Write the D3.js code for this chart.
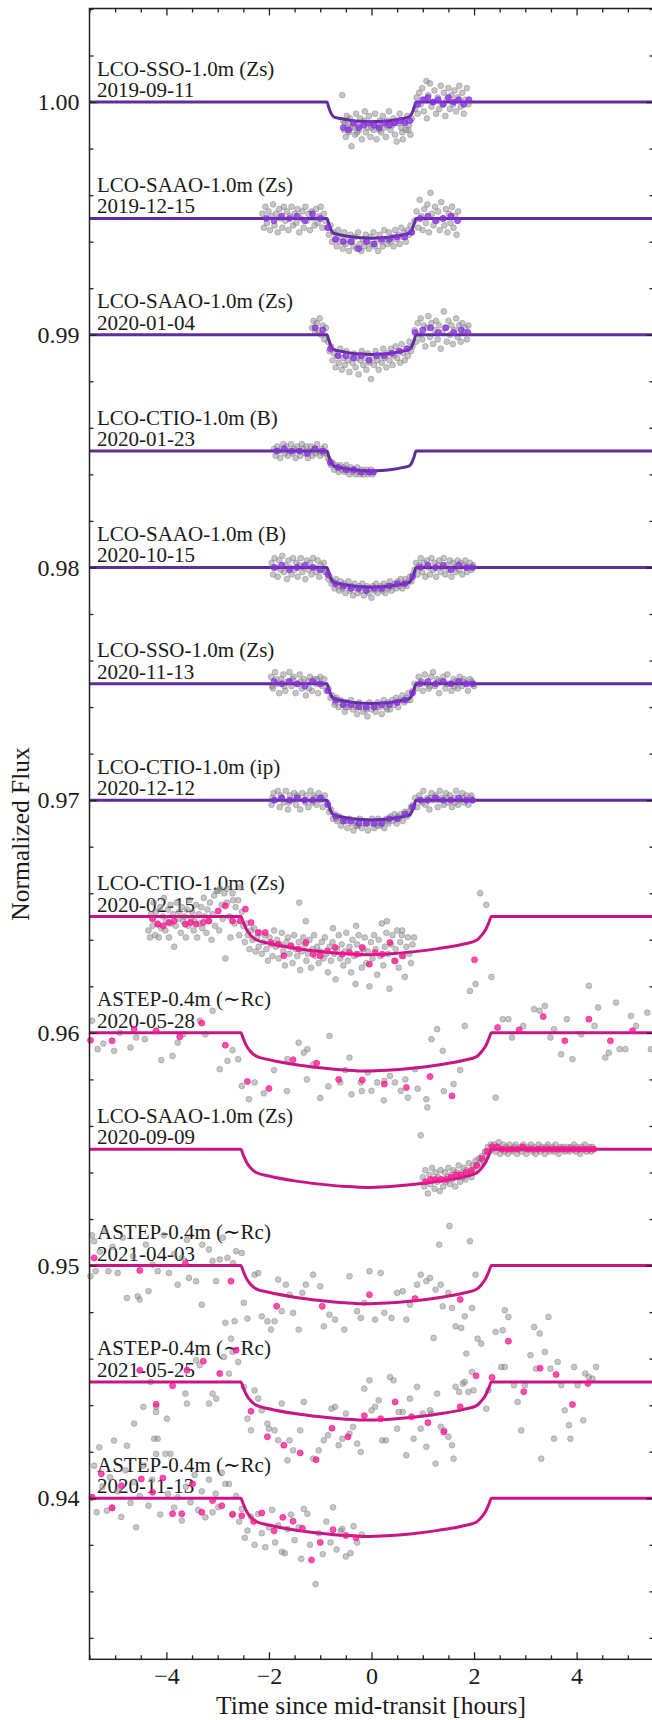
<!DOCTYPE html>
<html lang="en">
<head>
  <meta charset="UTF-8">
  <script src="https://cdn.jsdelivr.net/npm/d3@7"></script>
  <title>Transit light curves</title>
  <style>
    body { margin: 0; background: #fff; }
    svg { display: block; }
  </style>
</head>
<body>
  <svg></svg>
</body>
<script>
const width = 652;
const height = 1720;
const frame = { left: 89.5, right: 653.5, top: 8.5, bottom: 1659.3 };
const fontFamily = "'Liberation Serif', 'DejaVu Serif', serif";

// one entry per light curve, top to bottom
const names = [
  'LCO-SSO-1.0m (Zs)', 'LCO-SAAO-1.0m (Zs)', 'LCO-SAAO-1.0m (Zs)', 'LCO-CTIO-1.0m (B)',
  'LCO-SAAO-1.0m (B)', 'LCO-SSO-1.0m (Zs)', 'LCO-CTIO-1.0m (ip)', 'LCO-CTIO-1.0m (Zs)',
  'ASTEP-0.4m (\u223CRc)', 'LCO-SAAO-1.0m (Zs)', 'ASTEP-0.4m (\u223CRc)', 'ASTEP-0.4m (\u223CRc)',
  'ASTEP-0.4m (\u223CRc)'
];
const dates = [
  '2019-09-11', '2019-12-15', '2020-01-04', '2020-01-23', '2020-10-15', '2020-11-13', '2020-12-12',
  '2020-02-15', '2020-05-28', '2020-09-09', '2021-04-03', '2021-05-25', '2020-11-13'
];
const offsets = [1.000, 0.995, 0.990, 0.985, 0.980, 0.975, 0.970, 0.965, 0.960, 0.955, 0.950, 0.945, 0.940];
const planet = ['b', 'b', 'b', 'b', 'b', 'b', 'b', 'c', 'c', 'c', 'c', 'c', 'c'];

const xMajorTicks = [-4, -2, 0, 2, 4];
const yMajorTicks = [0.94, 0.95, 0.96, 0.97, 0.98, 0.99, 1.00];

// transit models: [hours, ppt below baseline]
const modelB = [[-5.5,0],[-0.87,0],[-0.83,-0.25],[-0.79,-0.48],[-0.74,-0.63],[-0.6,-0.71],[-0.4,-0.79],[-0.2,-0.83],[0,-0.85],
  [0.2,-0.83],[0.4,-0.79],[0.6,-0.71],[0.74,-0.63],[0.79,-0.48],[0.83,-0.25],[0.87,0],[5.5,0]];
const modelC = [[-5.5,0],[-2.55,0],[-2.5,-0.25],[-2.44,-0.55],[-2.36,-0.8],[-2.25,-1.0],[-2.0,-1.15],[-1.5,-1.36],[-1.0,-1.5],
  [-0.5,-1.6],[-0.1,-1.64],[0.3,-1.61],[0.8,-1.52],[1.3,-1.38],[1.8,-1.18],[2.05,-1.02],[2.15,-0.8],[2.23,-0.55],[2.29,-0.25],
  [2.34,0],[5.5,0]];

// unbinned photometry [hours, ppt] and binned points
const raw1 = [[-0.57,0.3],[-0.55,-0.8],[-0.53,-1.2],[-0.52,-0.9],[-0.5,-1.5],[-0.48,-0.6],[-0.46,-1.0],[-0.44,-1.3],[-0.42,-0.7],
  [-0.41,-1.1],[-0.39,-1.9],[-0.37,-1.1],[-0.35,-0.9],[-0.32,-1.4],[-0.3,-0.5],[-0.28,-1.3],[-0.27,-1.0],[-0.24,-1.2],[-0.22,-0.7],
  [-0.19,-1.6],[-0.16,-0.9],[-0.14,-0.8],[-0.13,-0.4],[-0.11,-1.3],[-0.08,-1.1],[-0.05,-0.6],[-0.02,-1.5],[0.0,-1.1],[0.01,-0.9],
  [0.04,-1.2],[0.07,-0.5],[0.1,-1.6],[0.13,-1.0],[0.15,-1.2],[0.16,-0.8],[0.19,-1.3],[0.22,-0.6],[0.25,-1.1],[0.28,-1.5],[0.3,-1.0],
  [0.31,-0.8],[0.34,-0.4],[0.37,-1.2],[0.4,-1.0],[0.43,-0.7],[0.45,-0.9],[0.46,-1.4],[0.49,-1.7],[0.52,-0.9],[0.55,-0.5],[0.58,-1.1],
  [0.6,-1.3],[0.61,-1.6],[0.64,-0.8],[0.67,-1.2],[0.7,-0.6],[0.72,-1.2],[0.73,-1.0],[0.76,-1.4],[0.79,-0.7],
  [0.85,-0.3],[0.88,0.2],[0.9,-0.5],[0.93,0.4],[0.96,-0.1],[0.99,0.6],[1.02,-0.4],[1.05,0.1],[1.07,0.9],[1.08,-0.7],[1.11,0.3],
  [1.14,0.8],[1.17,-0.2],[1.2,0.0],[1.23,0.5],[1.26,-0.5],[1.29,0.2],[1.32,-0.3],[1.35,0.7],[1.38,-0.1],[1.41,0.4],[1.44,-0.6],
  [1.47,0.1],[1.5,0.6],[1.53,-0.3],[1.56,0.3],[1.59,-0.1],[1.62,0.5],[1.65,-0.4],[1.68,0.2],[1.71,0.7],[1.74,-0.2],[1.77,0.4],
  [1.8,-0.5],[1.83,0.1],[1.86,0.6],[1.89,-0.1]];
const bin1 = [[-0.55,-1.1],[-0.45,-1.2],[-0.35,-0.9],[-0.25,-1.1],[-0.15,-1.0],[-0.05,-0.9],[0.05,-1.0],[0.15,-1.1],[0.25,-0.9],
  [0.35,-1.0],[0.45,-0.9],[0.55,-0.8],[0.65,-0.9],[0.75,-0.8],[0.9,-0.1],[1.0,0.1],[1.1,0.2],[1.2,0.0],[1.3,0.1],[1.4,-0.1],
  [1.5,0.2],[1.6,0.0],[1.7,0.1],[1.8,-0.1],[1.9,0.1]];

const raw2 = [[-2.13,0.2],[-2.1,-0.4],[-2.07,0.5],[-2.04,-0.2],[-2.01,0.3],[-1.98,-0.5],[-1.95,0.1],[-1.92,0.6],[-1.89,-0.3],
  [-1.86,0.2],[-1.83,-0.6],[-1.8,0.4],[-1.77,0.0],[-1.74,-0.4],[-1.71,0.5],[-1.68,-0.1],[-1.65,0.3],[-1.62,-0.5],[-1.59,0.1],
  [-1.56,0.5],[-1.53,-0.3],[-1.5,0.2],[-1.47,-0.2],[-1.44,0.4],[-1.41,-0.6],[-1.38,0.0],[-1.35,0.3],[-1.32,-0.4],[-1.29,0.5],
  [-1.26,-0.1],[-1.23,0.2],[-1.2,-0.5],[-1.17,0.3],[-1.14,0.0],[-1.11,-0.3],[-1.08,0.4],[-1.05,-0.2],[-1.02,0.1],[-0.99,0.5],
  [-0.96,-0.4],[-0.93,0.2],[-0.9,-0.1],
  [-0.86,-0.4],[-0.83,-0.7],[-0.8,-0.3],[-0.77,-1.0],[-0.74,-0.6],[-0.71,-0.9],[-0.68,-1.2],[-0.65,-0.5],[-0.62,-1.0],[-0.59,-0.8],
  [-0.56,-1.3],[-0.53,-0.6],[-0.5,-1.1],[-0.47,-0.9],[-0.44,-1.4],[-0.41,-0.7],[-0.38,-1.0],[-0.35,-1.2],[-0.32,-0.8],[-0.29,-1.3],
  [-0.26,-0.6],[-0.23,-1.1],[-0.2,-1.4],[-0.17,-0.9],[-0.14,-1.2],[-0.11,-0.7],[-0.08,-1.0],[-0.05,-1.3],[-0.02,-0.8],[0.01,-1.1],
  [0.04,-0.6],[0.07,-1.2],[0.1,-0.9],[0.13,-1.4],[0.16,-0.7],[0.19,-1.0],[0.22,-1.2],[0.25,-0.5],[0.28,-0.9],[0.31,-1.1],[0.34,-0.6],
  [0.37,-1.0],[0.4,-0.8],[0.43,-1.2],[0.46,-0.5],[0.49,-0.9],[0.52,-0.7],[0.55,-1.1],[0.58,-0.4],[0.61,-0.8],[0.64,-0.6],[0.67,-1.0],
  [0.7,-0.5],[0.73,-0.7],[0.76,-0.3],[0.79,-0.6],
  [0.84,-0.1],[0.88,0.3],[0.91,-0.4],[0.94,0.8],[0.97,0.1],[1.0,-0.5],[1.03,0.4],[1.06,-0.2],[1.09,0.6],[1.12,-0.6],[1.15,1.1],
  [1.18,0.2],[1.21,-0.3],[1.24,0.5],[1.27,-0.1],[1.3,0.3],[1.33,-0.5],[1.36,0.7],[1.39,0.0],[1.42,-0.3],[1.45,0.4],[1.48,-0.6],
  [1.51,0.2],[1.54,-0.2],[1.57,0.5],[1.6,-0.4],[1.63,0.1],[1.66,-0.7],[1.69,0.3]];
const bin2 = [[-2.05,0.0],[-1.9,-0.1],[-1.75,0.1],[-1.6,0.0],[-1.45,0.1],[-1.3,-0.1],[-1.15,0.2],[-1.0,0.0],[-0.85,-0.4],
  [-0.7,-0.9],[-0.55,-1.0],[-0.4,-1.0],[-0.25,-1.3],[-0.1,-1.0],[0.05,-1.1],[0.2,-0.9],[0.35,-0.9],[0.5,-0.8],[0.65,-0.8],
  [0.78,-0.6],[0.95,0.0],[1.1,0.1],[1.25,-0.1],[1.4,0.0],[1.55,0.1],[1.68,-0.1]];

const raw3 = [[-1.16,0.3],[-1.13,0.6],[-1.1,0.1],[-1.07,0.5],[-1.04,0.2],[-1.01,0.7],[-0.98,0.0],[-0.95,0.4],[-0.92,-0.2],[-0.89,0.3],
  [-0.85,-0.3],[-0.82,-0.7],[-0.79,-0.5],[-0.76,-1.1],[-0.73,-0.8],[-0.7,-1.4],[-0.67,-0.9],[-0.64,-1.2],[-0.61,-0.6],[-0.58,-1.5],
  [-0.55,-1.0],[-0.52,-1.3],[-0.49,-0.7],[-0.46,-1.1],[-0.43,-1.6],[-0.4,-0.9],[-0.37,-1.2],[-0.34,-0.8],[-0.31,-1.4],[-0.28,-1.0],
  [-0.25,-1.7],[-0.22,-1.1],[-0.19,-0.7],[-0.16,-1.3],[-0.13,-1.0],[-0.1,-1.5],[-0.07,-0.8],[-0.04,-1.2],[-0.01,-1.9],[0.02,-1.0],
  [0.05,-1.3],[0.08,-0.7],[0.11,-1.1],[0.14,-1.5],[0.17,-0.9],[0.2,-1.2],[0.23,-0.6],[0.26,-1.0],[0.29,-1.4],[0.32,-0.8],[0.35,-1.1],
  [0.38,-0.6],[0.41,-1.3],[0.44,-0.9],[0.47,-0.5],[0.5,-1.0],[0.53,-0.7],[0.56,-1.2],[0.59,-0.4],[0.62,-0.8],[0.65,-1.1],[0.68,-0.6],
  [0.71,-0.9],[0.74,-0.3],[0.77,-0.7],[0.8,-0.5],
  [0.84,0.2],[0.87,-0.3],[0.9,0.5],[0.93,0.0],[0.96,0.7],[0.99,-0.2],[1.02,0.4],[1.05,-0.5],[1.08,0.3],[1.11,0.8],[1.14,-0.1],
  [1.17,0.5],[1.2,-0.4],[1.23,0.2],[1.26,0.6],[1.29,-0.2],[1.32,0.4],[1.35,-0.6],[1.38,0.1],[1.41,1.0],[1.44,0.3],[1.47,-0.3],
  [1.5,0.6],[1.53,0.0],[1.56,0.4],[1.59,-0.4],[1.62,0.2],[1.65,0.7],[1.68,-0.1],[1.71,0.4],[1.74,-0.3],[1.77,0.5],[1.8,0.1],
  [1.83,0.3],[1.86,-0.2],[1.89,0.4]];
const bin3 = [[-1.1,0.3],[-0.95,0.2],[-0.8,-0.6],[-0.65,-0.9],[-0.5,-0.9],[-0.35,-1.0],[-0.2,-0.9],[-0.05,-1.1],[0.1,-0.9],
  [0.25,-0.9],[0.4,-0.8],[0.55,-0.7],[0.7,-0.6],[0.85,0.1],[1.0,0.2],[1.15,0.3],[1.3,0.1],[1.45,0.3],[1.6,0.1],[1.75,0.2],[1.88,0.1]];

const raw4 = [[-1.9,0.1],[-1.87,-0.2],[-1.84,0.2],[-1.81,0.0],[-1.78,-0.3],[-1.75,0.1],[-1.72,0.3],[-1.69,-0.1],[-1.66,0.2],
  [-1.63,-0.2],[-1.6,0.0],[-1.57,0.3],[-1.54,-0.1],[-1.51,0.1],[-1.48,-0.3],[-1.45,0.2],[-1.42,0.0],[-1.39,-0.2],[-1.36,0.3],
  [-1.33,0.1],[-1.3,-0.1],[-1.27,0.2],[-1.24,-0.3],[-1.21,0.0],[-1.18,0.2],[-1.15,-0.2],[-1.12,0.1],[-1.09,-0.1],[-1.06,0.3],
  [-1.03,0.0],[-1.0,-0.2],[-0.97,0.1],[-0.94,-0.1],[-0.91,0.2],
  [-0.88,-0.1],[-0.85,-0.3],[-0.82,-0.4],[-0.79,-0.6],[-0.76,-0.5],[-0.73,-0.8],[-0.7,-0.6],[-0.67,-0.7],[-0.64,-0.9],[-0.61,-0.6],
  [-0.58,-0.8],[-0.55,-0.7],[-0.52,-0.9],[-0.49,-0.6],[-0.46,-0.8],[-0.43,-1.0],[-0.4,-0.7],[-0.37,-0.9],[-0.34,-0.8],[-0.31,-1.0],
  [-0.28,-0.7],[-0.25,-0.9],[-0.22,-1.0],[-0.19,-0.8],[-0.16,-1.0],[-0.13,-0.9],[-0.1,-0.8],[-0.07,-1.0],[-0.04,-0.9],[-0.01,-0.8],
  [0.02,-1.0],[0.05,-0.9]];
const bin4 = [[-1.85,0.0],[-1.7,0.1],[-1.55,0.0],[-1.4,0.0],[-1.25,-0.1],[-1.1,0.1],[-0.95,0.0],[-0.8,-0.5],[-0.65,-0.7],
  [-0.5,-0.8],[-0.35,-0.8],[-0.2,-0.9],[-0.05,-0.9],[0.03,-0.9]];

const raw5 = [[-1.95,0.2],[-1.92,-0.3],[-1.89,0.4],[-1.86,0.0],[-1.83,-0.4],[-1.8,0.3],[-1.77,-0.1],[-1.74,0.5],[-1.71,-0.2],
  [-1.68,0.1],[-1.65,-0.5],[-1.62,0.3],[-1.59,0.0],[-1.56,-0.3],[-1.53,0.4],[-1.5,-0.1],[-1.47,0.2],[-1.44,-0.4],[-1.41,0.1],
  [-1.38,0.4],[-1.35,-0.2],[-1.32,0.0],[-1.29,-0.5],[-1.26,0.3],[-1.23,-0.1],[-1.2,0.2],[-1.17,-0.3],[-1.14,0.4],[-1.11,0.0],
  [-1.08,-0.2],[-1.05,0.3],[-1.02,-0.4],[-0.99,0.1],[-0.96,-0.1],[-0.93,0.2],[-0.9,-0.2],
  [-0.87,-0.2],[-0.84,-0.5],[-0.81,-0.4],[-0.78,-0.7],[-0.75,-0.6],[-0.72,-0.9],[-0.69,-0.5],[-0.66,-0.8],[-0.63,-1.0],[-0.6,-0.6],
  [-0.57,-0.9],[-0.54,-0.7],[-0.51,-1.1],[-0.48,-0.8],[-0.45,-0.6],[-0.42,-1.0],[-0.39,-0.8],[-0.36,-1.2],[-0.33,-0.7],[-0.3,-0.9],
  [-0.27,-1.1],[-0.24,-0.8],[-0.21,-1.0],[-0.18,-0.7],[-0.15,-1.2],[-0.12,-0.9],[-0.09,-0.8],[-0.06,-1.1],[-0.03,-0.9],[0.0,-1.3],
  [0.03,-0.8],[0.06,-1.0],[0.09,-0.7],[0.12,-1.1],[0.15,-0.9],[0.18,-0.8],[0.21,-1.0],[0.24,-0.7],[0.27,-1.1],[0.3,-0.8],[0.33,-0.9],
  [0.36,-0.6],[0.39,-1.0],[0.42,-0.8],[0.45,-0.7],[0.48,-0.9],[0.51,-0.6],[0.54,-0.8],[0.57,-0.5],[0.6,-0.9],[0.63,-0.7],[0.66,-0.5],
  [0.69,-0.8],[0.72,-0.6],[0.75,-0.4],[0.78,-0.6],[0.81,-0.3],
  [0.84,-0.1],[0.87,0.2],[0.9,-0.3],[0.93,0.1],[0.96,0.4],[0.99,-0.2],[1.02,0.2],[1.05,-0.4],[1.08,0.3],[1.11,0.0],[1.14,-0.3],
  [1.17,0.4],[1.2,-0.1],[1.23,0.2],[1.26,-0.4],[1.29,0.1],[1.32,0.3],[1.35,-0.2],[1.38,0.0],[1.41,0.4],[1.44,-0.3],[1.47,0.1],
  [1.5,-0.1],[1.53,0.3],[1.56,-0.4],[1.59,0.2],[1.62,0.0],[1.65,-0.2],[1.68,0.3],[1.71,-0.1],[1.74,0.2],[1.77,-0.3],[1.8,0.1],
  [1.83,0.3],[1.86,-0.2],[1.89,0.0],[1.92,0.2],[1.95,-0.1],[1.98,0.1]];
const bin5 = [[-1.9,0.0],[-1.75,0.1],[-1.6,-0.1],[-1.45,0.0],[-1.3,0.1],[-1.15,0.0],[-1.0,-0.1],[-0.85,-0.3],[-0.7,-0.7],
  [-0.55,-0.8],[-0.4,-0.9],[-0.25,-0.9],[-0.1,-1.0],[0.05,-0.9],[0.2,-0.9],[0.35,-0.8],[0.5,-0.7],[0.65,-0.7],[0.8,-0.4],[0.95,0.0],
  [1.1,0.1],[1.25,0.0],[1.4,0.1],[1.55,-0.1],[1.7,0.1],[1.85,0.0],[1.97,0.0]];

const raw6 = [[-1.96,0.3],[-1.94,-0.1],[-1.92,-0.2],[-1.88,0.5],[-1.86,0.2],[-1.84,0.0],[-1.8,-0.4],[-1.76,0.2],[-1.72,0.4],
  [-1.7,-0.1],[-1.68,-0.3],[-1.64,0.1],[-1.6,0.5],[-1.56,-0.1],[-1.54,0.2],[-1.52,0.3],[-1.48,-0.4],[-1.44,0.0],[-1.4,0.4],
  [-1.38,0.1],[-1.36,-0.2],[-1.32,0.2],[-1.28,-0.5],[-1.24,0.1],[-1.22,-0.2],[-1.2,0.3],[-1.16,-0.3],[-1.12,0.2],[-1.08,0.0],
  [-1.06,0.2],[-1.04,-0.4],[-1.0,0.3],[-0.98,0.0],[-0.96,-0.1],[-0.92,0.2],
  [-0.88,-0.3],[-0.84,-0.2],[-0.8,-0.6],[-0.76,-0.5],[-0.72,-0.9],[-0.7,-0.8],[-0.68,-0.6],[-0.64,-1.0],[-0.6,-0.7],[-0.56,-0.9],
  [-0.52,-1.2],[-0.5,-1.0],[-0.48,-0.8],[-0.44,-1.0],[-0.4,-0.7],[-0.36,-1.1],[-0.32,-0.9],[-0.3,-1.0],[-0.28,-1.3],[-0.24,-0.8],
  [-0.2,-1.0],[-0.16,-1.2],[-0.12,-0.9],[-0.1,-1.1],[-0.08,-1.4],[-0.04,-0.8],[0.0,-1.1],[0.04,-0.9],[0.08,-1.2],[0.1,-1.0],
  [0.12,-0.8],[0.16,-1.0],[0.2,-1.3],[0.24,-0.7],[0.28,-1.0],[0.3,-1.1],[0.32,-0.8],[0.36,-1.1],[0.4,-0.7],[0.44,-0.9],[0.48,-0.6],
  [0.5,-0.8],[0.52,-1.0],[0.56,-0.7],[0.6,-0.5],[0.64,-0.8],[0.68,-0.6],[0.7,-0.7],[0.72,-0.4],[0.76,-0.7],[0.8,-0.3],
  [0.84,0.0],[0.88,-0.2],[0.92,0.3],[0.96,0.1],[0.98,0.1],[1.0,-0.3],[1.04,0.4],[1.08,0.0],[1.12,-0.2],[1.14,-0.1],[1.16,0.3],
  [1.2,0.5],[1.24,-0.1],[1.28,0.2],[1.3,0.1],[1.32,-0.4],[1.36,0.1],[1.4,0.3],[1.44,-0.2],[1.46,0.0],[1.48,0.4],[1.52,0.0],
  [1.56,-0.3],[1.6,0.2],[1.62,-0.1],[1.64,0.1],[1.68,-0.2],[1.72,0.3],[1.76,-0.1],[1.78,0.1],[1.8,0.2],[1.84,0.0],[1.88,-0.3],
  [1.92,0.2],[1.94,0.0],[1.96,0.1],[2.0,-0.1]];
const bin6 = [[-1.9,0.1],[-1.75,0.0],[-1.6,0.1],[-1.45,0.0],[-1.3,-0.1],[-1.15,0.1],[-1.0,0.0],[-0.85,-0.3],[-0.7,-0.7],
  [-0.55,-0.9],[-0.4,-0.9],[-0.25,-1.0],[-0.1,-1.0],[0.05,-1.0],[0.2,-0.9],[0.35,-0.9],[0.5,-0.8],[0.65,-0.7],[0.8,-0.4],
  [0.95,0.0],[1.1,0.1],[1.25,0.0],[1.4,0.1],[1.55,0.0],[1.7,0.1],[1.85,0.0],[1.98,0.0]];

const raw7 = [[-1.95,-0.2],[-1.93,0.1],[-1.91,0.3],[-1.87,0.0],[-1.83,0.4],[-1.79,-0.3],[-1.77,0.2],[-1.75,0.1],[-1.71,-0.1],
  [-1.67,0.4],[-1.63,-0.4],[-1.61,-0.1],[-1.59,0.2],[-1.55,0.0],[-1.51,0.3],[-1.47,-0.2],[-1.45,0.2],[-1.43,0.1],[-1.39,-0.4],
  [-1.35,0.3],[-1.31,0.0],[-1.29,-0.1],[-1.27,0.2],[-1.23,-0.3],[-1.19,0.4],[-1.15,-0.1],[-1.13,0.2],[-1.11,0.1],[-1.07,-0.2],
  [-1.03,0.3],[-0.99,0.0],[-0.97,0.1],[-0.95,-0.3],[-0.91,0.2],
  [-0.87,-0.1],[-0.83,-0.5],[-0.79,-0.4],[-0.75,-0.8],[-0.71,-0.6],[-0.69,-0.8],[-0.67,-0.9],[-0.63,-0.7],[-0.59,-1.1],[-0.55,-0.8],
  [-0.51,-0.9],[-0.49,-0.9],[-0.47,-1.2],[-0.43,-0.8],[-0.39,-1.0],[-0.35,-1.3],[-0.31,-0.9],[-0.29,-1.1],[-0.27,-1.1],[-0.23,-0.8],
  [-0.19,-1.2],[-0.15,-1.0],[-0.11,-0.9],[-0.09,-1.0],[-0.07,-1.3],[-0.03,-1.0],[0.01,-0.8],[0.05,-1.2],[0.09,-1.0],[0.11,-1.1],
  [0.13,-0.8],[0.17,-1.1],[0.21,-0.9],[0.25,-1.2],[0.29,-0.8],[0.31,-0.9],[0.33,-1.0],[0.37,-0.7],[0.41,-0.9],[0.45,-0.6],[0.49,-1.0],
  [0.51,-0.7],[0.53,-0.8],[0.57,-0.6],[0.61,-0.9],[0.65,-0.5],[0.69,-0.7],[0.71,-0.5],[0.73,-0.6],[0.77,-0.3],[0.81,-0.2],
  [0.85,0.1],[0.89,-0.3],[0.93,0.2],[0.97,0.0],[0.99,-0.1],[1.01,0.4],[1.05,-0.2],[1.09,0.1],[1.13,-0.4],[1.15,0.1],[1.17,0.3],
  [1.21,0.0],[1.25,0.2],[1.29,-0.3],[1.31,0.0],[1.33,0.4],[1.37,0.1],[1.41,-0.2],[1.45,0.3],[1.47,0.1],[1.49,-0.1],[1.53,0.2],
  [1.57,-0.3],[1.61,0.1],[1.63,-0.1],[1.65,0.4],[1.69,-0.2],[1.73,0.0],[1.77,0.3],[1.79,0.1],[1.81,-0.1],[1.85,0.2],[1.89,-0.2],
  [1.93,0.1],[1.95,0.2],[1.97,0.0]];
const bin7 = [[-1.9,0.0],[-1.75,0.1],[-1.6,0.0],[-1.45,0.1],[-1.3,0.0],[-1.15,0.0],[-1.0,0.1],[-0.85,-0.2],[-0.7,-0.7],
  [-0.55,-0.9],[-0.4,-0.9],[-0.25,-1.0],[-0.1,-1.0],[0.05,-1.0],[0.2,-1.0],[0.35,-0.8],[0.5,-0.8],[0.65,-0.6],[0.8,-0.3],
  [0.95,0.0],[1.1,0.0],[1.25,0.1],[1.4,0.0],[1.55,0.0],[1.7,0.1],[1.85,0.0],[1.97,0.0]];

const raw8 = [[-4.35,-0.6],[-4.32,-0.9],[-4.3,0.1],[-4.27,-0.4],[-4.25,0.6],[-4.22,-0.8],[-4.2,0.2],[-4.17,-0.3],[-4.15,-0.9],
  [-4.12,0.4],[-4.1,-0.5],[-4.07,0.0],[-4.05,0.8],[-4.02,-0.6],[-4.0,-0.2],[-3.97,0.3],[-3.95,-0.9],[-3.92,0.5],[-3.9,-0.3],
  [-3.87,0.1],[-3.85,-1.3],[-3.82,-0.4],[-3.8,0.6],[-3.77,-0.1],[-3.75,0.2],[-3.72,-0.7],[-3.7,0.4],[-3.67,-0.2],[-3.65,0.0],
  [-3.62,-0.9],[-3.6,0.3],[-3.57,-0.4],[-3.55,0.7],[-3.52,-0.1],[-3.5,0.2],[-3.47,-0.6],[-3.45,-0.2],[-3.42,0.5],[-3.4,-0.9],
  [-3.37,0.1],[-3.35,-0.3],[-3.32,0.4],[-3.3,-0.5],[-3.27,0.8],[-3.25,0.0],[-3.22,-0.7],[-3.2,0.3],[-3.17,-0.2],[-3.15,0.6],
  [-3.12,-1.0],[-3.1,0.1],[-3.07,0.9],[-3.05,-0.4],[-3.02,1.1],[-2.99,1.1],[-2.97,-0.6],[-2.95,1.2],[-2.92,0.5],[-2.9,-0.1],
  [-2.87,1.0],[-2.85,-1.8],[-2.82,0.6],[-2.81,1.2],[-2.77,0.0],[-2.75,-0.9],[-2.71,1.0],[-2.7,0.7],[-2.67,-0.3],[-2.65,0.4],
  [-2.6,0.7],[-2.58,-0.8],[-2.56,1.25],[-2.53,0.2],
  [-2.5,-0.4],[-2.47,-1.1],[-2.44,-0.3],[-2.41,-0.8],[-2.38,-1.4],[-2.35,-0.6],[-2.32,-1.0],[-2.29,-0.5],[-2.26,-1.5],[-2.23,-0.9],
  [-2.2,-1.3],[-2.17,-0.7],[-2.14,-1.6],[-2.11,-1.1],[-2.08,-0.8],[-2.05,-1.4],[-2.02,-1.9],[-1.99,-0.9],[-1.96,-1.2],[-1.93,-1.7],
  [-1.9,-0.6],[-1.87,-1.3],[-1.84,-1.0],[-1.81,-1.8],[-1.78,-1.2],[-1.75,-0.7],[-1.72,-1.5],[-1.69,-2.1],[-1.66,-1.1],[-1.63,-0.9],
  [-1.6,-1.6],[-1.57,-1.3],[-1.54,-2.0],[-1.51,-0.8],[-1.48,-1.4],[-1.45,-1.7],[-1.42,-1.1],[-1.41,0.6],[-1.39,-2.3],[-1.36,-1.5],
  [-1.33,-0.9],[-1.3,-1.2],[-1.28,-0.2],[-1.27,-1.9],[-1.24,-1.6],[-1.21,-1.0],[-1.18,-2.2],[-1.15,-1.4],[-1.12,-0.8],[-1.09,-1.7],
  [-1.06,-1.3],[-1.03,-2.0],[-1.0,-1.5],[-0.97,-1.1],[-0.94,-1.8],[-0.91,-0.9],[-0.88,-1.6],[-0.85,-2.4],[-0.82,-1.3],[-0.79,-1.9],
  [-0.76,-1.1],[-0.75,-0.5],[-0.73,-1.6],[-0.7,-2.7],[-0.67,-1.4],[-0.64,-0.8],[-0.61,-1.8],[-0.58,-1.2],[-0.55,-2.1],[-0.52,-1.5],
  [-0.49,-0.7],[-0.46,-1.9],[-0.43,-1.3],[-0.4,-2.4],[-0.37,-1.0],[-0.34,-1.7],[-0.31,-2.9],[-0.3,-0.4],[-0.28,-1.2],[-0.25,-0.8],
  [-0.22,-1.6],[-0.19,-2.2],[-0.16,-1.4],[-0.13,-0.9],[-0.1,-2.0],[-0.07,-1.5],[-0.04,-3.0],[-0.01,-1.1],[0.02,-1.8],[0.05,-0.8],
  [0.08,-1.4],[0.11,-2.5],[0.14,-1.0],[0.17,-1.7],[0.2,-0.3],[0.23,-2.1],[0.26,-1.3],[0.29,-0.7],[0.3,-0.2],[0.32,-1.6],[0.35,-3.1],
  [0.38,-1.2],[0.41,-0.8],[0.44,-1.9],[0.47,-1.4],[0.5,-0.6],[0.53,-2.2],[0.56,-1.1],[0.59,-0.8],[0.6,-0.6],[0.62,-1.7],[0.65,-2.6],
  [0.68,-1.3],[0.71,-0.9],[0.74,-1.6],[0.77,-2.0],[0.8,-1.2],[0.83,-0.9],
  [1.92,-3.2],[2.03,-2.9],[2.12,1.0],[2.24,0.5],[2.34,-2.6]];
const bin8 = [[-4.27,-0.11],[-4.17,-0.33],[-4.06,-0.4],[-3.95,-0.26],[-3.85,-0.19],[-3.63,-0.33],[-3.53,-0.26],[-3.42,-0.33],
  [-3.28,-0.26],[-3.17,-0.19],[-2.99,0.24],[-2.85,0.46],[-2.71,-0.19],[-2.56,-0.19],[-2.46,0.32],[-2.35,-0.26],[-2.21,-0.69],
  [-2.07,-0.69],[-1.96,-1.12],[-1.82,-1.19],[-1.71,-1.69],[-1.57,-1.26],[-1.42,-1.4],[-1.28,-1.12],[-1.14,-1.62],[-1.0,-1.69],
  [-0.86,-1.48],[-0.71,-1.33],[-0.57,-1.62],[-0.43,-1.55],[-0.29,-1.62],[-0.18,-1.33],[-0.04,-2.05],[0.07,-1.55],[0.21,-1.62],
  [0.36,-1.12],[0.46,-1.91],[0.6,-1.69],[2.01,-1.86]];

const raw9 = [[-5.45,0.52],[-5.34,-0.7],[-5.23,-0.46],[-5.02,-0.77],[-4.91,0.01],[-4.7,-0.63],[-4.59,-0.2],[-4.42,-0.27],
  [-4.1,-1.17],[-3.88,-0.99],[-3.78,-0.42],[-3.67,-0.06],[-3.35,0.52],[-3.24,-0.06],[-3.1,0.95],[-2.96,-1.56],[-2.81,-1.2],
  [-2.71,-0.74],[-2.6,-1.13],[-2.53,-2.28],[-2.39,-2.85],[-2.28,-2.13],[-2.1,-2.6],[-1.9,-1.6],[-1.65,-2.5],[-1.64,-1.13],
  [-1.42,-0.42],[-1.32,-0.85],[-1.26,-2.0],[-1.25,-0.7],[-1.14,-1.35],[-1.0,-2.8],[-0.84,-2.3],[-0.82,-0.13],[-0.61,-2.13],
  [-0.51,-1.6],[-0.43,-1.06],[-0.39,-2.64],[-0.21,-2.13],[-0.19,-2.5],[-0.07,-1.7],[0.0,-2.49],[0.11,-2.13],[0.24,-2.9],
  [0.25,-2.06],[0.36,-1.85],[0.46,-2.13],[0.57,-2.49],[0.66,-2.0],[0.71,-2.78],[0.85,-1.56],[0.9,-2.4],[1.07,-2.85],[1.09,-3.2],
  [1.17,-0.27],[1.28,0.16],[1.39,-0.77],[1.41,-2.5],[1.6,-2.2],[1.73,-1.6],[1.82,0.3],[2.42,-2.78],[2.56,0.59],[2.67,0.59],
  [2.74,-0.2],[2.96,0.3],[3.17,1.02],[3.28,0.95],[3.38,1.16],[3.49,-0.2],[3.56,0.16],[3.7,-0.92],[3.81,0.59],[3.92,-1.13],
  [4.09,-0.06],[4.24,2.02],[4.35,0.3],[4.42,1.09],[4.56,-1.06],[4.63,-0.85],[4.77,1.3],[4.84,-0.7],[4.95,-0.7],[5.06,0.73],
  [5.16,0.3],[5.38,0.87],[5.45,-0.7]];
const bin9 = [[-5.48,-0.32],[-5.06,-0.34],[-4.63,0.16],[-4.2,0.09],[-3.74,-0.17],[-3.31,0.42],[-2.85,-0.53],[-2.42,-2.09],
  [-2.0,-2.39],[-1.53,-1.16],[-1.07,-1.3],[-0.64,-2.0],[-0.18,-2.03],[0.25,-2.2],[0.68,-2.35],[1.14,-1.88],[1.57,-2.71],
  [2.46,0.23],[2.88,0.13],[3.35,0.7],[3.77,-0.34],[4.24,0.59],[4.66,-0.34],[5.09,0.09]];

const raw10 = [[0.96,0.6],[1.0,-1.2],[1.03,-1.6],[1.05,-0.9],[1.08,-1.4],[1.1,-1.9],[1.13,-1.1],[1.15,-1.5],[1.18,-0.8],[1.2,-1.3],
  [1.23,-1.7],[1.25,-1.0],[1.28,-1.4],[1.3,-1.2],[1.33,-1.8],[1.35,-0.9],[1.38,-1.3],[1.4,-1.6],[1.43,-1.0],[1.45,-1.4],[1.48,-1.2],
  [1.5,-0.8],[1.53,-1.5],[1.55,-1.1],[1.58,-1.3],[1.6,-0.9],[1.63,-1.6],[1.65,-1.0],[1.68,-1.2],[1.7,-0.7],[1.73,-1.4],[1.75,-1.0],
  [1.78,-1.2],[1.8,-0.8],[1.83,-1.3],[1.85,-0.9],[1.88,-1.1],[1.9,-0.6],[1.93,-1.0],[1.95,-1.2],[1.98,-0.7],[2.0,-0.9],[2.03,-0.5],
  [2.06,-0.7],[2.09,-0.4],[2.12,-0.6],[2.15,-0.3],[2.18,-0.5],[2.21,-0.1],[2.24,-0.3],[2.27,0.1],[2.3,-0.1],[2.33,0.2],
  [2.36,0.0],[2.39,0.2],[2.42,-0.1],[2.45,0.1],[2.48,0.3],[2.51,-0.2],[2.54,0.0],[2.57,0.2],[2.6,-0.1],[2.63,0.1],[2.66,-0.2],
  [2.69,0.2],[2.72,0.0],[2.75,-0.1],[2.78,0.1],[2.81,0.2],[2.84,-0.2],[2.87,0.0],[2.9,0.1],[2.93,-0.1],[2.96,0.2],[2.99,0.0],
  [3.02,-0.2],[3.05,0.1],[3.08,0.0],[3.11,0.2],[3.14,-0.1],[3.17,0.1],[3.2,-0.2],[3.23,0.0],[3.26,0.2],[3.29,-0.1],[3.32,0.1],
  [3.35,0.0],[3.38,-0.2],[3.41,0.1],[3.44,0.2],[3.47,-0.1],[3.5,0.0],[3.53,0.1],[3.56,-0.1],[3.59,0.2],[3.62,0.0],[3.65,-0.2],
  [3.68,0.1],[3.71,0.0],[3.74,0.1],[3.77,-0.1],[3.8,0.0],[3.83,0.1],[3.86,-0.1],[3.89,0.1],[3.92,0.0],[3.95,0.2],[3.98,-0.1],
  [4.01,0.1],[4.04,0.0],[4.07,-0.2],[4.1,0.1],[4.13,0.0],[4.16,0.2],[4.19,-0.1],[4.22,0.0],[4.25,0.1],[4.28,-0.1],[4.31,0.1],
  [4.34,0.0]];
const bin10 = [[1.05,-1.4],[1.15,-1.3],[1.25,-1.3],[1.35,-1.3],[1.45,-1.3],[1.55,-1.2],[1.65,-1.1],[1.75,-1.1],[1.85,-1.0],
  [1.95,-0.9],[2.05,-0.7],[2.15,-0.4],[2.25,-0.1],[2.35,0.1],[2.45,0.1],[2.55,0.0],[2.65,0.0],[2.75,0.0],[2.85,0.0],[2.95,0.1],
  [3.05,0.0],[3.15,0.0],[3.25,0.0],[3.35,0.0],[3.45,0.0],[3.55,0.0],[3.65,0.0],[3.75,0.0],[3.85,0.0],[3.95,0.0],[4.05,0.0],
  [4.15,0.0],[4.25,0.0],[4.33,0.0]];

const raw11 = [[-5.48,-0.46],[-5.45,1.3],[-5.41,1.05],[-5.38,-0.24],[-5.3,0.6],[-5.2,1.5],[-5.13,-0.24],[-5.05,0.8],[-4.95,-0.32],
  [-4.85,1.2],[-4.77,-1.39],[-4.65,0.4],[-4.56,-1.32],[-4.52,-1.46],[-4.4,0.9],[-4.35,-1.1],[-4.27,0.04],[-4.17,-0.24],[-4.05,1.3],
  [-3.95,-0.32],[-3.85,0.5],[-3.78,-0.82],[-3.7,0.33],[-3.6,1.1],[-3.56,-0.53],[-3.42,-0.67],[-3.31,-1.68],[-3.3,0.9],[-3.17,0.69],
  [-3.1,0.2],[-3.03,-0.67],[-2.96,0.26],[-2.9,1.2],[-2.85,-2.46],[-2.81,0.33],[-2.7,0.1],[-2.67,-2.39],[-2.64,0.62],[-2.53,0.54],
  [-2.49,-1.6],[-2.42,-2.28],[-2.28,-0.39],[-2.21,-0.32],[-2.14,-2.18],[-2.03,-2.39],[-1.96,-2.75],[-1.89,-2.39],[-1.82,-0.6],
  [-1.75,-1.96],[-1.67,-0.82],[-1.6,-1.25],[-1.53,-2.03],[-1.42,-2.75],[-1.35,-1.17],[-1.28,-0.82],[-1.14,-0.39],[-1.0,-0.89],
  [-0.93,-2.61],[-0.82,-2.11],[-0.71,-2.32],[-0.53,-2.75],[-0.43,-0.46],[-0.28,-1.96],[-0.21,-2.25],[-0.14,-1.6],[-0.04,-0.24],
  [0.07,-2.32],[0.18,-0.32],[0.25,-2.03],[0.39,-2.25],[0.5,-1.17],[0.61,-1.1],[0.68,-2.32],[0.75,-1.68],[0.89,-0.82],[0.96,-0.39],
  [1.07,-0.67],[1.14,-0.53],[1.21,-3.11],[1.25,-1.03],[1.32,0.9],[1.35,-0.82],[1.39,-1.75],[1.5,-1.17],[1.52,1.7],[1.57,-1.82],
  [1.64,-2.61],[1.75,-2.68],[1.82,-2.18],[1.92,1.05],[1.96,-1.82],[2.03,-0.39]];
const bin11 = [[-5.41,0.33],[-4.52,-0.21],[-3.63,0.09],[-2.74,-0.67],[-1.85,-1.75],[-0.96,-1.75],[-0.04,-1.25],[0.85,-1.42],[1.73,-1.46]];

const raw12 = [[-4.63,-1.79],[-4.45,-1.07],[-4.31,0.0],[-4.24,-2.44],[-4.2,-1.07],[-4.2,-1.29],[-4.17,-2.44],[-3.99,-1.58],
  [-3.63,-0.5],[-3.6,-0.93],[-3.42,0.93],[-3.35,0.72],[-3.17,-0.93],[-3.1,-0.5],[-3.03,-0.72],[-2.88,1.07],[-2.78,0.36],[-2.74,1.86],
  [-2.71,1.29],[-2.6,0.86],[-2.49,-0.21],[-2.42,-1.58],[-2.35,-2.08],[-2.28,-0.36],[-2.21,-0.72],[-2.14,-1.22],[-2.03,-1.79],
  [-2.0,-2.01],[-1.89,-2.08],[-1.82,-2.51],[-1.75,-0.93],[-1.64,-3.37],[-1.6,-2.51],[-1.53,-2.94],[-1.39,-2.08],[-1.32,-0.86],
  [-1.14,-3.3],[-1.03,-2.94],[-0.93,-2.51],[-0.85,-2.29],[-0.78,-1.15],[-0.71,-1.07],[-0.64,-2.72],[-0.57,-2.44],[-0.5,-1.36],
  [-0.43,-2.22],[-0.36,-1.93],[-0.28,-2.65],[-0.21,-3.01],[-0.14,-0.29],[-0.04,0.07],[0.0,-1.22],[0.07,-1.07],[0.14,-0.79],
  [0.21,-2.51],[0.28,-2.51],[0.36,0.21],[0.43,0.07],[0.5,-2.01],[0.53,-1.29],[0.61,-1.29],[0.68,-3.15],[0.75,-0.72],[0.82,-2.44],
  [0.89,-0.21],[0.96,-2.01],[1.0,-1.36],[1.07,-2.79],[1.14,-1.22],[1.17,-1.36],[1.25,-3.51],[1.28,-0.5],[1.35,-1.93],[1.42,-2.08],
  [1.5,-2.36],[1.57,-2.72],[1.6,-3.3],[1.64,-0.21],[1.71,-0.43],[1.78,-0.07],[1.82,0.0],[1.85,1.22],[1.89,-0.43],[1.96,0.43],
  [1.99,-0.36],[2.07,1.86],[2.14,1.65],[2.24,-1.15],[2.28,-0.36],[2.42,2.15],[2.53,0.64],[2.56,2.22],[2.6,0.64],[2.6,3.08],
  [2.67,2.79],[2.78,-0.14],[2.85,-0.86],[2.92,-2.08],[2.99,-0.14],[3.1,1.15],[3.17,2.36],[3.21,0.57],[3.28,2.08],[3.31,-3.3],
  [3.38,1.29],[3.45,2.79],[3.49,0.57],[3.56,-2.44],[3.63,0.86],[3.7,-0.14],[3.77,-1.22],[3.85,-1.86],[3.88,-2.44],[3.95,0.64],
  [4.02,-0.14],[4.13,-1.65],[4.17,0.36],[4.24,0.21],[4.31,0.14],[4.38,0.64]];
const bin12 = [[-4.52,0.5],[-4.2,-0.96],[-3.88,-0.17],[-3.6,0.5],[-3.28,0.89],[-2.96,0.36],[-2.64,1.36],[-2.35,-1.26],[-2.03,-2.36],
  [-1.71,-2.72],[-1.39,-3.05],[-1.08,-3.34],[-0.77,-1.99],[-0.46,-2.36],[-0.14,-1.45],[0.18,-1.58],[0.46,-0.86],[0.78,-1.5],
  [1.1,-1.75],[1.41,-2.15],[1.73,-1.07],[2.04,0.26],[2.35,0.19],[2.67,1.75],[2.97,-0.42],[3.29,0.59],[3.6,0.32],[3.92,-0.97],[4.22,-0.07]];

const raw13 = [[-5.45,0.04],[-5.41,1.4],[-5.36,-0.6],[-5.31,2.19],[-5.25,0.5],[-5.16,-0.53],[-5.1,0.9],[-5.06,-0.39],[-5.02,2.48],
  [-4.95,0.3],[-4.88,-0.8],[-4.8,1.2],[-4.77,2.26],[-4.7,-0.2],[-4.63,0.7],[-4.59,-1.25],[-4.52,0.1],[-4.45,1.4],[-4.35,-0.32],
  [-4.28,0.8],[-4.2,1.91],[-4.12,-0.7],[-4.02,1.91],[-3.97,0.19],[-3.92,1.91],[-3.85,-0.4],[-3.78,0.04],[-3.7,-0.96],[-3.62,0.5],
  [-3.53,-0.17],[-3.45,1.0],[-3.38,-0.5],[-3.31,0.3],[-3.24,-0.82],[-3.17,0.8],[-3.1,-0.6],[-3.04,0.2],[-2.99,-0.39],[-2.92,1.1],
  [-2.85,0.62],[-2.78,0.62],[-2.71,-0.67],[-2.64,0.1],[-2.58,-1.0],[-2.53,-0.46],[-2.47,-1.7],[-2.42,-1.39],[-2.35,-0.8],
  [-2.28,-2.0],[-2.21,-0.67],[-2.14,-1.5],[-2.07,-2.1],[-2.0,-1.25],[-1.94,-0.5],[-1.88,-1.9],[-1.82,-1.17],[-1.75,-2.3],
  [-1.69,-2.36],[-1.64,-1.32],[-1.57,-0.7],[-1.5,-1.8],[-1.42,-1.25],[-1.37,-2.6],[-1.32,-0.46],[-1.25,-0.67],[-1.2,-2.0],
  [-1.09,-3.69],[-1.03,-1.5],[-0.95,-2.4],[-0.88,-1.0],[-0.8,-1.9],[-0.75,-0.39],[-0.68,-2.2],[-0.6,-1.4],[-0.57,-1.32],[-0.5,-2.5],
  [-0.41,-2.36],[-0.35,-1.2],[-0.28,-1.9],[-0.19,-1.56]];
const bin13 = [[-5.45,0.04],[-5.27,1.05],[-5.06,-0.42],[-4.88,0.54],[-4.49,0.83],[-4.27,0.26],[-4.07,0.87],[-3.88,-0.67],
  [-3.7,-0.67],[-3.49,0.62],[-3.31,-0.6],[-3.1,-0.1],[-2.92,-0.32],[-2.71,-0.7],[-2.53,-0.75],[-2.3,-1.0],[-2.14,-0.63],
  [-1.9,-1.4],[-1.73,-0.82],[-1.53,-0.99],[-1.35,-1.29],[-1.17,-2.65],[-1.0,-1.9],[-0.75,-1.35],[-0.5,-1.6],[-0.3,-1.7]];

const rawSets = [raw1, raw2, raw3, raw4, raw5, raw6, raw7, raw8, raw9, raw10, raw11, raw12, raw13];
const binSets = [bin1, bin2, bin3, bin4, bin5, bin6, bin7, bin8, bin9, bin10, bin11, bin12, bin13];

const styles = {
  b: { line: '#5f2d9c', bin: '#8a2be2' },
  c: { line: '#c71585', bin: '#ff1493' }
};

const svg = d3.select('svg').attr('width', width).attr('height', height);
const labelLayer = svg.append('g');
const rawLayer = svg.append('g');
const modelLayer = svg.append('g');
const binLayer = svg.append('g');
const axisLayer = svg.append('g');

const xScale = d3.scaleLinear().domain([-5.5, 5.5]).range([frame.left, frame.right]);
const yScale = d3.scaleLinear().domain([0.93308, 1.00402]).range([frame.bottom, frame.top]);

const curves = names.map((name, i) => ({
  name,
  date: dates[i],
  offset: offsets[i],
  style: styles[planet[i]],
  model: planet[i] === 'b' ? modelB : modelC,
  raw: rawSets[i],
  bins: binSets[i]
}));

const fluxY = (curve, ppt) => yScale(curve.offset + ppt / 1000);

const paintLabels = () => {
  curves.forEach(curve => {
    const base = yScale(curve.offset);
    const g = labelLayer.append('g')
      .attr('font-family', fontFamily)
      .attr('font-size', 21)
      .attr('fill', '#1a1a1a');
    g.append('text').attr('x', 97).attr('y', base - 26.5).text(curve.name);
    g.append('text').attr('x', 97).attr('y', base - 5).text(curve.date);
  });
};

const paintRaw = () => {
  curves.forEach(curve => {
    rawLayer.append('g').selectAll('circle')
      .data(curve.raw)
      .enter()
      .append('circle')
      .attr('cx', d => xScale(d[0]))
      .attr('cy', d => fluxY(curve, d[1]))
      .attr('r', 2.9)
      .attr('fill', '#808080')
      .attr('fill-opacity', 0.45)
      .attr('stroke', '#808080')
      .attr('stroke-opacity', 0.5)
      .attr('stroke-width', 0.9);
  });
};

const paintModels = () => {
  curves.forEach(curve => {
    const line = d3.line()
      .x(d => xScale(d[0]))
      .y(d => fluxY(curve, d[1]))
      .curve(d3.curveMonotoneX);
    modelLayer.append('path')
      .datum(curve.model)
      .attr('d', line)
      .attr('fill', 'none')
      .attr('stroke', curve.style.line)
      .attr('stroke-width', 3);
  });
};

const paintBins = () => {
  curves.forEach(curve => {
    binLayer.append('g').selectAll('circle')
      .data(curve.bins)
      .enter()
      .append('circle')
      .attr('cx', d => xScale(d[0]))
      .attr('cy', d => fluxY(curve, d[1]))
      .attr('r', 3)
      .attr('fill', curve.style.bin)
      .attr('fill-opacity', 0.75)
      .attr('stroke', curve.style.bin)
      .attr('stroke-opacity', 0.8)
      .attr('stroke-width', 0.9);
  });
};

const styleAxis = g => {
  g.select('.domain').remove();
  g.selectAll('line').attr('stroke', '#222').attr('stroke-width', 1.3);
  g.attr('font-family', fontFamily).attr('font-size', 24);
  g.selectAll('text').attr('fill', '#1a1a1a');
};

const paintAxis = () => {
  const xMinor = d3.range(-5.5, 5.51, 0.5).filter(v => !xMajorTicks.includes(v));
  const yMinor = d3.range(934, 1005, 2).filter(v => v % 10 !== 0).map(v => v / 1000);

  axisLayer.append('g').attr('transform', `translate(0,${frame.bottom})`)
    .call(d3.axisBottom(xScale).tickValues(xMajorTicks).tickSizeInner(-7).tickSizeOuter(0).tickPadding(8)
      .tickFormat(d3.format('')))
    .call(styleAxis);
  axisLayer.append('g').attr('transform', `translate(0,${frame.bottom})`)
    .call(d3.axisBottom(xScale).tickValues(xMinor).tickSizeInner(-4).tickSizeOuter(0).tickFormat(() => ''))
    .call(styleAxis);
  axisLayer.append('g').attr('transform', `translate(0,${frame.top})`)
    .call(d3.axisTop(xScale).tickValues(xMajorTicks).tickSizeInner(-7).tickSizeOuter(0).tickFormat(() => ''))
    .call(styleAxis);
  axisLayer.append('g').attr('transform', `translate(0,${frame.top})`)
    .call(d3.axisTop(xScale).tickValues(xMinor).tickSizeInner(-4).tickSizeOuter(0).tickFormat(() => ''))
    .call(styleAxis);

  axisLayer.append('g').attr('transform', `translate(${frame.left},0)`)
    .call(d3.axisLeft(yScale).tickValues(yMajorTicks).tickSizeInner(-7).tickSizeOuter(0).tickPadding(10)
      .tickFormat(d3.format('.2f')))
    .call(styleAxis);
  axisLayer.append('g').attr('transform', `translate(${frame.left},0)`)
    .call(d3.axisLeft(yScale).tickValues(yMinor).tickSizeInner(-4).tickSizeOuter(0).tickFormat(() => ''))
    .call(styleAxis);
  axisLayer.append('g').attr('transform', `translate(${frame.right},0)`)
    .call(d3.axisRight(yScale).tickValues(yMajorTicks).tickSizeInner(-7).tickSizeOuter(0).tickFormat(() => ''))
    .call(styleAxis);
  axisLayer.append('g').attr('transform', `translate(${frame.right},0)`)
    .call(d3.axisRight(yScale).tickValues(yMinor).tickSizeInner(-4).tickSizeOuter(0).tickFormat(() => ''))
    .call(styleAxis);

  axisLayer.append('rect')
    .attr('x', frame.left).attr('y', frame.top)
    .attr('width', frame.right - frame.left).attr('height', frame.bottom - frame.top)
    .attr('fill', 'none').attr('stroke', '#222').attr('stroke-width', 1.5);

  axisLayer.append('text')
    .attr('x', (frame.left + frame.right) / 2 - 0.5).attr('y', 1714)
    .attr('text-anchor', 'middle')
    .attr('font-family', fontFamily).attr('font-size', 25.5).attr('fill', '#1a1a1a')
    .text('Time since mid-transit [hours]');
  axisLayer.append('text')
    .attr('transform', `translate(29,${(frame.top + frame.bottom) / 2}) rotate(-90)`)
    .attr('text-anchor', 'middle')
    .attr('font-family', fontFamily).attr('font-size', 25.5).attr('fill', '#1a1a1a')
    .text('Normalized Flux');
};

paintLabels();
paintRaw();
paintModels();
paintBins();
paintAxis();
</script>
</html>
